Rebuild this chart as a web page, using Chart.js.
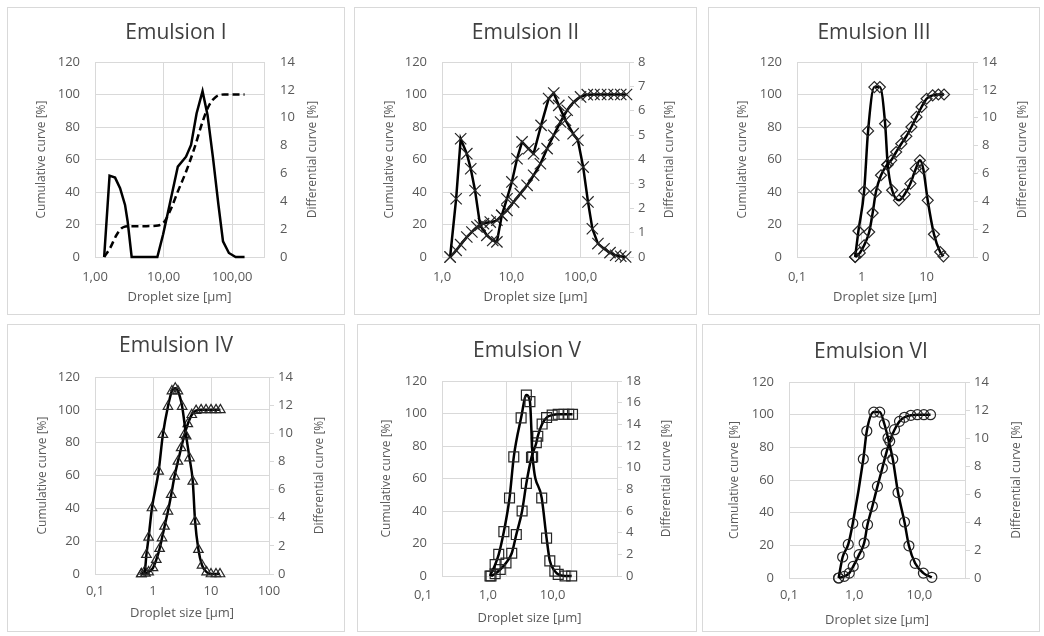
<!DOCTYPE html>
<html lang="en">
<head>
  <meta charset="UTF-8" />
  <title>Emulsion droplet size distributions</title>
  <script src="https://cdn.jsdelivr.net/npm/chart.js"></script>
  <style>
    * { box-sizing: border-box; margin: 0; padding: 0; }
    body { background: #fff; width: 1044px; height: 636px; position: relative; overflow: hidden; }
    .panel { position: absolute; border: 1px solid #d9d9d9; background: #fff; }
    .panel canvas { position: absolute; left: -1px; top: -1px; }
  </style>
</head>
<body>
  <div class="panel" id="p1"><canvas id="c1"></canvas></div>
  <div class="panel" id="p2"><canvas id="c2"></canvas></div>
  <div class="panel" id="p3"><canvas id="c3"></canvas></div>
  <div class="panel" id="p4"><canvas id="c4"></canvas></div>
  <div class="panel" id="p5"><canvas id="c5"></canvas></div>
  <div class="panel" id="p6"><canvas id="c6"></canvas></div>

  <script>
    // ---- data (droplet size in µm, curves in %) ----
    // Emulsion I
    const e1DiffSize = [1.36, 1.63, 1.96, 2.32, 2.74, 2.99, 3.42, 8.1, 9.8, 12.2, 16.1, 21.2, 25.1, 30.2, 36.9, 43.6, 52.5, 62.9, 73.3, 89.3, 112, 151];
    const e1Diff     = [0, 5.84, 5.7, 4.94, 3.74, 2.55, 0, 0, 1.6, 3.74, 6.49, 7.2, 8.04, 10.3, 11.9, 10.2, 7.08, 3.74, 1.12, 0.29, 0, 0];
    const e1CumSize  = [1.36, 1.66, 2.07, 2.6, 3.6, 5.6, 8.3, 10.3, 12.9, 16.1, 21.2, 28, 36.9, 46, 57.5, 76, 151];
    const e1Cum      = [0, 5.5, 13.7, 18.4, 19, 19, 19.4, 21.9, 30, 40.3, 52.5, 66.8, 83.2, 93.4, 98.5, 100, 100];
    const e1Ticks = [1, 10, 100];
    const e1TickLabels = ['1,00', '10,00', '100,00'];

    // Emulsion II
    const e2DiffSize = [1.31, 1.6, 1.86, 2.28, 2.6, 3.0, 3.55, 4.44, 5.4, 6.2, 7.3, 8.66, 10.2, 12.1, 14.3, 17.8, 21, 26.9, 34.6, 41, 48.5, 60.5, 78, 91.5, 109, 128, 148, 178, 218, 266, 321, 380, 447];
    const e2Diff     = [0, 2.39, 4.85, 4.24, 3.62, 2.73, 1.3, 0.89, 0.68, 0.62, 1.71, 2.39, 3.08, 4.03, 4.72, 4.44, 4.24, 5.4, 6.5, 6.73, 6.22, 5.61, 5.06, 4.79, 3.69, 2.26, 1.16, 0.55, 0.34, 0.18, 0.07, 0.03, 0];
    const e2CumSize  = [1.31, 1.6, 1.86, 2.28, 2.7, 3.2, 3.97, 4.97, 6.2, 7.3, 8.66, 10.8, 13.5, 16.9, 21, 26.3, 32.9, 41, 51.5, 64.1, 80, 100, 125, 156, 195, 245, 305, 380, 460];
    const e2Cum      = [0, 4.1, 7.6, 12.3, 15.4, 18.5, 20.5, 21.5, 22.6, 25.6, 28.7, 33.8, 39, 44.1, 50.3, 57.4, 66.7, 74.9, 83.1, 90.3, 95.4, 98.5, 99.9, 100, 100, 100, 100, 100, 100];
    const e2Ticks = [1, 10, 100];
    const e2TickLabels = ['1,0', '10,0', '100,0'];

    // Emulsion III
    const e3DiffSize = [0.79, 0.887, 1.087, 1.25, 1.56, 1.9, 2.29, 2.51, 2.94, 3.74, 4.58, 5.62, 6.81, 7.87, 8.87, 10.4, 13.0, 16.2, 18.2];
    const e3Diff     = [0, 1.87, 4.74, 9.05, 12.2, 12.2, 9.57, 6.63, 4.79, 4.07, 4.5, 5.27, 6.34, 6.94, 6.34, 4.07, 1.63, 0.36, 0.05];
    const e3CumSize  = [0.79, 0.93, 1.087, 1.3, 1.47, 1.65, 1.98, 2.46, 2.84, 3.39, 4.07, 4.87, 5.83, 6.98, 8.36, 10, 12.4, 15.2, 18.6];
    const e3Cum      = [0, 2.5, 7.2, 15.4, 27.1, 40, 50.3, 56.8, 59.5, 64.6, 69.7, 74.3, 80, 86.2, 92.3, 97.4, 99.5, 100, 100];
    const e3Ticks = [0.1, 1, 10];
    const e3TickLabels = ['0,1', '1', '10'];

    // Emulsion IV
    const e4DiffSize = [0.63, 0.72, 0.77, 0.84, 0.96, 1.25, 1.48, 1.81, 2.12, 2.42, 2.69, 3.18, 3.73, 4.26, 4.85, 5.32, 6.07, 7.0, 8.4, 10, 12.2, 14.3];
    const e4Diff     = [0, 0.19, 1.37, 2.6, 4.69, 7.3, 9.9, 11.9, 13.0, 13.2, 13.0, 11.9, 9.8, 8.24, 6.58, 3.74, 1.73, 0.62, 0.14, 0, 0, 0];
    const e4CumSize  = [0.63, 0.74, 0.84, 1.0, 1.14, 1.3, 1.43, 1.58, 1.81, 2.06, 2.35, 2.69, 3.06, 3.49, 3.98, 4.66, 5.53, 6.75, 8.2, 10, 12.2, 14.5];
    const e4Cum      = [0, 0.4, 1.2, 3.7, 8.7, 15.4, 21.9, 29, 38.2, 48.3, 59.5, 68.6, 76.8, 84.9, 91.4, 97, 99.5, 100, 100, 100, 100, 100];
    const e4Ticks = [0.1, 1, 10, 100];
    const e4TickLabels = ['0,1', '1', '10', '100'];

    // Emulsion V
    const e5DiffSize = [0.55, 0.66, 0.75, 0.9, 1.1, 1.28, 1.66, 2.0, 2.27, 2.5, 3.45, 4.1, 4.6, 5.5, 6.2, 7.9, 10];
    const e5Diff     = [0, 1.05, 2.0, 4.1, 7.2, 11.0, 14.6, 16.7, 16.1, 11.0, 7.2, 3.5, 1.4, 0.45, 0.15, 0, 0];
    const e5CumSize  = [0.57, 0.66, 0.79, 0.97, 1.19, 1.4, 1.72, 2.0, 2.4, 2.85, 3.0, 3.5, 4.1, 5.0, 6.2, 7.6, 9.0, 10.3];
    const e5Cum      = [0, 1.4, 4, 8, 14, 25.5, 40, 57, 73, 82, 86, 93.5, 97.5, 99, 99.5, 99.5, 99.5, 99.5];
    const e5Ticks = [0.1, 1, 10];
    const e5TickLabels = ['0,1', '1,0', '10,0'];

    // Emulsion VI
    const e6DiffSize = [0.577, 0.665, 0.81, 0.95, 1.38, 1.56, 2.0, 2.46, 2.9, 3.3, 3.9, 4.7, 5.9, 6.9, 8.6, 11.5, 15.5];
    const e6Diff     = [0, 1.5, 2.4, 3.9, 8.5, 10.5, 11.85, 11.85, 11.0, 10.0, 8.5, 6.1, 4.0, 2.3, 1.05, 0.35, 0.05];
    const e6CumSize  = [0.577, 0.705, 0.84, 0.965, 1.19, 1.42, 1.6, 1.9, 2.27, 2.7, 3.1, 3.5, 4.15, 4.95, 5.9, 7.4, 9.3, 11.7, 14.8];
    const e6Cum      = [0, 1, 3, 7.1, 14.3, 21.4, 32.7, 43.9, 56.1, 67.3, 76.5, 83.7, 90.8, 95.9, 98.4, 99.6, 100, 100, 100];
    const e6Ticks = [0.1, 1, 10];
    const e6TickLabels = ['0,1', '1,0', '10,0'];

    // ---- panel layout (px, relative to each panel box) ----
    const panels = [
      { id: 1, title: 'Emulsion I',   box: [7, 7, 338, 308],   L: 88, R: 257, T: 55, B: 250, titleY: 26, xLab: 20, xTitle: 290, lTitle: 35, rTitle: 306,
        xMin: 1, xMax: 290, y2Max: 14, y2Step: 2, rightTicks: false, labelOffset: 0,
        diff: [e1DiffSize, e1Diff], cum: [e1CumSize, e1Cum], ticks: [e1Ticks, e1TickLabels], marker: null, smoothDiff: false, smoothCum: true },
      { id: 2, title: 'Emulsion II',  box: [354, 7, 343, 308], L: 88, R: 275, T: 55, B: 250, titleY: 26, xLab: 20, xTitle: 290, lTitle: 36, rTitle: 316,
        xMin: 1, xMax: 500, y2Max: 8, y2Step: 1, rightTicks: true, labelOffset: 0,
        diff: [e2DiffSize, e2Diff], cum: [e2CumSize, e2Cum], ticks: [e2Ticks, e2TickLabels], marker: ['crossRot', 8], smoothDiff: false, smoothCum: true },
      { id: 3, title: 'Emulsion III', box: [708, 7, 332, 308], L: 89, R: 265, T: 55, B: 250, titleY: 26, xLab: 20, xTitle: 290, lTitle: 35, rTitle: 315,
        xMin: 0.1, xMax: 52, y2Max: 14, y2Step: 2, rightTicks: true, labelOffset: 0,
        diff: [e3DiffSize, e3Diff], cum: [e3CumSize, e3Cum], ticks: [e3Ticks, e3TickLabels], marker: ['rectRot', 5.5], smoothDiff: true, smoothCum: true },
      { id: 4, title: 'Emulsion IV',  box: [7, 324, 338, 308], L: 88, R: 262, T: 53, B: 250, titleY: 22, xLab: 17, xTitle: 289, lTitle: 36, rTitle: 313,
        xMin: 0.1, xMax: 100, y2Max: 14, y2Step: 2, rightTicks: true, labelOffset: 0,
        diff: [e4DiffSize, e4Diff], cum: [e4CumSize, e4Cum], ticks: [e4Ticks, e4TickLabels], marker: ['triangle', 5.5], smoothDiff: true, smoothCum: true },
      { id: 5, title: 'Emulsion V',   box: [357, 324, 340, 308], L: 85, R: 260, T: 57, B: 252, titleY: 27, xLab: 19, xTitle: 294, lTitle: 30, rTitle: 310,
        xMin: 0.1, xMax: 50, y2Max: 18, y2Step: 2, rightTicks: true, labelOffset: -19,
        diff: [e5DiffSize, e5Diff], cum: [e5CumSize, e5Cum], ticks: [e5Ticks, e5TickLabels], marker: ['rect', 7], smoothDiff: true, smoothCum: true },
      { id: 6, title: 'Emulsion VI',  box: [702, 324, 338, 308], L: 87, R: 263, T: 58, B: 254, titleY: 28, xLab: 17, xTitle: 296, lTitle: 33, rTitle: 315,
        xMin: 0.1, xMax: 50, y2Max: 14, y2Step: 2, rightTicks: true, labelOffset: 0,
        diff: [e6DiffSize, e6Diff], cum: [e6CumSize, e6Cum], ticks: [e6Ticks, e6TickLabels], marker: ['circle', 5], smoothDiff: true, smoothCum: true }
    ];

    const FONT = "'Open Sans', sans-serif";
    const GRID = '#d9d9d9';
    const TEXT = '#595959';
    Chart.defaults.font.family = FONT;
    Chart.defaults.color = TEXT;

    // right axis title reads bottom-to-top like the left one
    const rightTitle = {
      id: 'rightTitle',
      afterDraw(chart, args, opts) {
        const { ctx, chartArea } = chart;
        ctx.save();
        ctx.translate(opts.x, (chartArea.top + chartArea.bottom) / 2);
        ctx.rotate(-Math.PI / 2);
        ctx.font = '12px ' + FONT;
        ctx.fillStyle = TEXT;
        ctx.textAlign = 'center';
        ctx.textBaseline = 'middle';
        ctx.fillText(opts.text, 0, 0);
        ctx.restore();
      }
    };

    const toPoints = (xs, ys) => xs.map((x, i) => ({ x: x, y: ys[i] }));

    panels.forEach(p => {
      const [left, top, w, h] = p.box;
      const div = document.getElementById('p' + p.id);
      div.style.left = left + 'px';
      div.style.top = top + 'px';
      div.style.width = w + 'px';
      div.style.height = h + 'px';

      const canvas = document.getElementById('c' + p.id);
      canvas.width = w;
      canvas.height = h;
      canvas.style.width = w + 'px';
      canvas.style.height = h + 'px';

      const titleSize = 21;
      const titleLine = titleSize * 1.2;
      const titlePadTop = p.titleY - titleLine / 2;
      const titlePadBottom = p.T - titlePadTop - titleLine;

      const pointOpts = p.marker ? {
        pointStyle: p.marker[0],
        pointRadius: p.marker[1],
        pointBorderColor: '#262626',
        pointBackgroundColor: 'rgba(255,255,255,0)',
        pointBorderWidth: 1.2
      } : { pointRadius: 0 };

      const [tickVals, tickLabels] = p.ticks;

      new Chart(canvas, {
        type: 'scatter',
        data: {
          datasets: [
            Object.assign({
              label: 'Differential curve',
              data: toPoints(p.diff[0], p.diff[1]),
              yAxisID: 'y2',
              showLine: true,
              borderColor: '#000',
              borderWidth: 2.5,
              cubicInterpolationMode: p.smoothDiff ? 'monotone' : 'default',
              tension: 0,
              clip: false
            }, pointOpts),
            Object.assign({
              label: 'Cumulative curve',
              data: toPoints(p.cum[0], p.cum[1]),
              yAxisID: 'y',
              showLine: true,
              borderColor: '#000',
              borderWidth: 2.5,
              borderDash: p.marker ? [] : [7, 4],
              cubicInterpolationMode: p.smoothCum ? 'monotone' : 'default',
              tension: 0,
              clip: false
            }, pointOpts)
          ]
        },
        options: {
          responsive: false,
          animation: false,
          layout: { padding: 0 },
          plugins: {
            legend: { display: false },
            tooltip: { enabled: false },
            title: {
              display: true,
              text: p.title,
              color: '#404040',
              font: { size: titleSize, weight: 'normal', lineHeight: 1.2 },
              padding: { top: titlePadTop, bottom: titlePadBottom }
            },
            rightTitle: { text: 'Differential curve [%]', x: p.rTitle }
          },
          scales: {
            x: {
              type: 'logarithmic',
              min: p.xMin,
              max: p.xMax,
              afterBuildTicks: s => { s.ticks = tickVals.map(v => ({ value: v })); },
              afterFit: s => { s.height = h - p.B; },
              ticks: {
                autoSkip: false,
                maxRotation: 0,
                padding: p.xLab - 7.8,
                labelOffset: p.labelOffset,
                font: { size: 13 },
                callback: (v, i) => tickLabels[i]
              },
              grid: { color: GRID, drawTicks: false },
              border: { display: false },
              title: {
                display: true,
                text: 'Droplet size [µm]',
                font: { size: 13 },
                padding: { top: 0, bottom: h - p.xTitle - 7.8 }
              }
            },
            y: {
              position: 'left',
              min: 0,
              max: 120,
              afterFit: s => { s.width = p.L; },
              ticks: { stepSize: 20, padding: 15, font: { size: 13 } },
              grid: { color: GRID, drawTicks: false },
              border: { display: false },
              title: {
                display: true,
                text: 'Cumulative curve [%]',
                font: { size: 12 },
                padding: { top: p.lTitle - 7.2, bottom: 0 }
              }
            },
            y2: {
              position: 'right',
              min: 0,
              max: p.y2Max,
              afterFit: s => { s.width = w - p.R; },
              ticks: { stepSize: p.y2Step, padding: p.rightTicks ? 4 : 16, font: { size: 13 } },
              grid: { drawOnChartArea: false, color: GRID, drawTicks: p.rightTicks, tickLength: 5 },
              border: { display: true, color: GRID }
            }
          }
        },
        plugins: [rightTitle]
      });
    });
  </script>
</body>
</html>
